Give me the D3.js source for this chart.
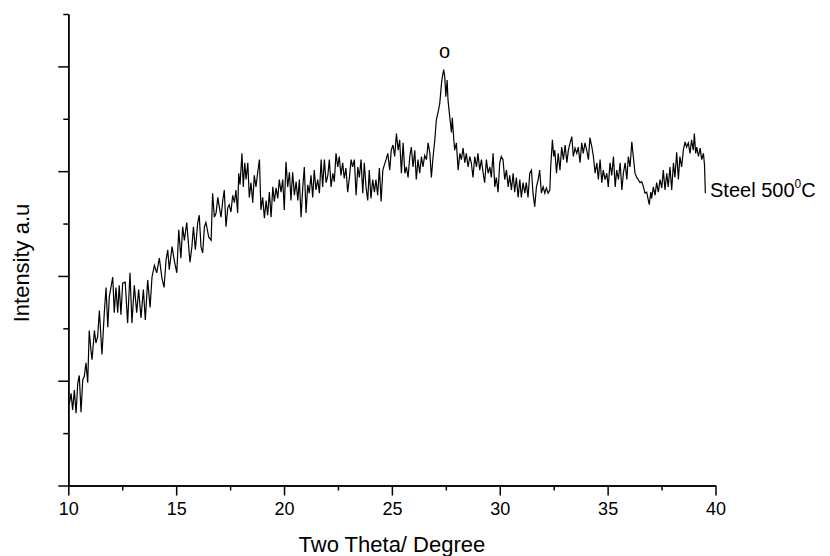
<!DOCTYPE html>
<html>
<head>
<meta charset="utf-8">
<script src="https://cdn.jsdelivr.net/npm/d3@7"></script>
<style>
    html, body { margin: 0; padding: 0; background: #fff; }
    svg { display: block; font-family: "Liberation Sans", Arial, sans-serif; }
</style>
</head>
<body>
<div id="chart"></div>
<script>
// XRD pattern, Steel 500 C (arbitrary units)
const twoTheta = [
    10.05, 10.13, 10.20, 10.28, 10.36, 10.44, 10.51, 10.59, 10.67, 10.74, 10.82, 10.90, 10.97, 11.05, 11.10,
    11.21, 11.28, 11.36, 11.44, 11.56, 11.67, 11.75, 11.83, 11.90, 12.06, 12.13, 12.21, 12.29, 12.36, 12.44,
    12.52, 12.64, 12.75, 12.86, 12.95, 13.06, 13.17, 13.26, 13.37, 13.48, 13.57, 13.68, 13.79, 13.88, 13.99,
    14.10, 14.22, 14.34, 14.44, 14.53, 14.61, 14.68, 14.81, 14.91, 15.03, 15.12, 15.22, 15.30, 15.38, 15.49,
    15.58, 15.64, 15.73, 15.80, 15.89, 16.00, 16.07, 16.15, 16.23, 16.31, 16.38, 16.51, 16.62, 16.69, 16.77,
    16.85, 16.93, 17.00, 17.08, 17.16, 17.23, 17.31, 17.39,
    17.46, 17.54, 17.62, 17.70, 17.77, 17.85, 17.90, 17.96, 18.05, 18.11, 18.18, 18.24, 18.32, 18.39, 18.47,
    18.55, 18.62, 18.70, 18.78, 18.86, 18.93, 19.01, 19.09, 19.17, 19.24, 19.32, 19.40, 19.48, 19.55, 19.63,
    19.71, 19.78, 19.86, 19.94, 20.01, 20.09, 20.17, 20.25, 20.32, 20.40, 20.48, 20.56, 20.64, 20.71, 20.79,
    20.87, 20.94, 21.02, 21.10, 21.17, 21.25, 21.33, 21.40, 21.48, 21.56, 21.64, 21.72, 21.79, 21.87, 21.95,
    22.03, 22.10, 22.18, 22.26, 22.33, 22.41, 22.49, 22.56, 22.64, 22.72, 22.79, 22.87, 22.95, 23.03, 23.11,
    23.18, 23.26, 23.34, 23.42, 23.49, 23.57, 23.65, 23.72, 23.80, 23.88, 23.95, 24.03, 24.11, 24.19, 24.26,
    24.34, 24.42, 24.50, 24.58, 24.65, 24.73, 24.81,
    24.90, 24.97, 25.05, 25.13, 25.21, 25.29, 25.36, 25.44, 25.52, 25.60, 25.67, 25.75, 25.83, 25.90, 25.98,
    26.06, 26.13, 26.21, 26.29, 26.37, 26.44, 26.52, 26.60, 26.68, 26.76, 26.83, 26.91, 26.99, 27.06, 27.14,
    27.22, 27.30, 27.34, 27.40, 27.45, 27.50, 27.56, 27.60, 27.68, 27.76, 27.80, 27.87, 27.91, 27.99, 28.07,
    28.15, 28.22, 28.30, 28.38, 28.45, 28.53, 28.61, 28.68, 28.76, 28.84, 28.92, 28.99, 29.07, 29.15, 29.23,
    29.30, 29.38, 29.46, 29.54, 29.61, 29.69, 29.77, 29.84, 29.92, 30.00, 30.07, 30.15, 30.23, 30.31, 30.39,
    30.46, 30.54, 30.62, 30.69, 30.77, 30.85, 30.93, 31.00, 31.08, 31.16, 31.23, 31.31, 31.39, 31.47, 31.54,
    31.62, 31.70, 31.78, 31.85, 31.93, 32.01, 32.09, 32.16, 32.24, 32.32,
    32.36, 32.44, 32.50, 32.55, 32.63, 32.71, 32.79, 32.87, 32.95, 33.03, 33.11, 33.18, 33.26, 33.34, 33.41,
    33.49, 33.57, 33.64, 33.72, 33.80, 33.87, 33.95, 34.03, 34.11, 34.18, 34.27, 34.34, 34.42, 34.50, 34.57,
    34.65, 34.73, 34.80, 34.88, 34.96, 35.03, 35.11, 35.19, 35.27, 35.35, 35.42, 35.50, 35.58, 35.66, 35.73,
    35.81, 35.89, 35.96, 36.04, 36.12, 36.19, 36.27, 36.35, 36.42, 36.50, 36.58, 36.66, 36.73, 36.81, 36.89,
    36.93, 37.00, 37.04, 37.12, 37.20, 37.27, 37.35, 37.43, 37.51, 37.58, 37.66, 37.74, 37.81, 37.89, 37.97,
    38.05, 38.12, 38.20, 38.28, 38.35, 38.43, 38.51, 38.59, 38.66, 38.74, 38.82, 38.89, 38.97, 39.02, 39.08,
    39.13, 39.21, 39.29, 39.36, 39.44, 39.49, 39.53
];

const intensity = [
    78, 88, 72, 91, 69, 98, 105, 70, 101, 104, 117, 98, 148, 129, 120,
    148, 136, 142, 167, 125, 165, 189, 151, 180, 199, 165, 189, 165, 191, 163,
    193, 194, 155, 203, 155, 191, 165, 187, 160, 187, 158, 196, 170, 199, 210,
    203, 217, 198, 189, 215, 225, 206, 228, 215, 203, 244, 217, 247, 234, 251,
    228, 213, 228, 247, 225, 251, 258, 228, 222, 247, 251, 237, 234, 279, 256,
    260, 275, 266, 256, 272, 282, 247, 265,
    268, 261, 277, 270, 282, 260, 298, 287, 317, 285, 308, 292, 308, 275, 289,
    270, 296, 285, 299, 311, 263, 275, 255, 272, 258, 280, 256, 285, 271, 284,
    274, 292, 280, 292, 263, 309, 285, 299, 272, 299, 277, 290, 272, 292, 256,
    285, 304, 260, 287, 279, 296, 275, 301, 282, 292, 279, 311, 285, 311, 289,
    296, 311, 285, 298, 290, 317, 304, 314, 296, 308, 293, 303, 280, 294, 311,
    304, 311, 277, 304, 294, 311, 279, 308, 285, 272, 301, 274, 292, 280, 292,
    277, 303, 271, 301, 306, 311, 317,
    301, 320, 325, 314, 336, 320, 330, 298, 327, 298, 304, 294, 314, 323, 304,
    320, 292, 311, 298, 314, 304, 315, 311, 327, 317, 294, 314, 330, 349, 356,
    365, 384, 390, 397, 390, 371, 387, 368, 352, 337, 351, 330, 320, 327, 301,
    317, 311, 322, 308, 317, 304, 314, 308, 294, 314, 304, 317, 301, 311, 298,
    289, 311, 298, 304, 294, 317, 285, 294, 280, 308, 314, 311, 292, 301, 285,
    296, 282, 298, 280, 294, 275, 292, 275, 289, 279, 289, 275, 298, 301, 279,
    266, 285, 292, 301, 279, 285, 279, 284, 279, 282,
    304, 330, 314, 320, 298, 317, 301, 323, 311, 325, 308, 320, 327, 333, 314,
    322, 317, 323, 308, 327, 317, 327, 320, 311, 332, 323, 314, 298, 308, 292,
    311, 289, 301, 292, 298, 285, 308, 296, 314, 285, 301, 292, 308, 282, 298,
    308, 292, 314, 304, 328, 314, 298, 294, 292, 289, 290, 285, 279, 280, 272,
    268, 280, 274, 285, 277, 289, 280, 292, 284, 301, 282, 298, 285, 304, 282,
    308, 294, 318, 292, 314, 304, 320, 328, 323, 327, 317, 330, 320, 336, 317,
    323, 314, 322, 311, 317, 306, 279
];

const xMajorTicks = [10, 15, 20, 25, 30, 35, 40];
const xMinorTicks = [12.5, 17.5, 22.5, 27.5, 32.5, 37.5];
const yMajorTicks = [0, 100, 200, 300, 400];
const yMinorTicks = [50, 150, 250, 350, 450];

const xTitle = 'Two Theta/ Degree';
const yTitle = 'Intensity a.u';
const peakMark = { theta: 27.40, label: 'o' };

function drawChart() {
    const width = 830;
    const height = 556;
    const axisColor = '#000';

    const svg = d3.select('#chart')
        .append('svg')
        .attr('width', width)
        .attr('height', height);

    const x = d3.scaleLinear().domain([10, 40]).range([68.3, 715.5]);
    const y = d3.scaleLinear().domain([0, 450]).range([485.5, 14]);

    // Data trace
    const points = twoTheta.map((t, i) => [t, intensity[i]]);
    const line = d3.line()
        .x(d => x(d[0]))
        .y(d => y(d[1]));

    svg.append('path')
        .datum(points)
        .attr('d', line)
        .attr('fill', 'none')
        .attr('stroke', '#000')
        .attr('stroke-width', 1.2)
        .attr('stroke-linejoin', 'miter');

    // Bottom axis (major + minor)
    const xAxisG = svg.append('g').attr('transform', `translate(0,${y(0)})`);
    xAxisG.append('g')
        .call(d3.axisBottom(x).tickValues(xMinorTicks).tickSize(5).tickSizeOuter(0).tickFormat(''));
    xAxisG.append('g')
        .call(d3.axisBottom(x).tickValues(xMajorTicks).tickSize(10).tickSizeOuter(0).tickPadding(7).tickFormat(d3.format('d')));

    // Left axis (major + minor, no labels)
    const yAxisG = svg.append('g').attr('transform', `translate(${x(10)},0)`);
    yAxisG.append('g')
        .call(d3.axisLeft(y).tickValues(yMinorTicks).tickSize(5).tickSizeOuter(0).tickFormat(''));
    yAxisG.append('g')
        .call(d3.axisLeft(y).tickValues(yMajorTicks).tickSize(10).tickSizeOuter(0).tickFormat(''));

    svg.selectAll('.domain, .tick line')
        .attr('stroke', axisColor)
        .attr('stroke-width', 1.5);

    svg.selectAll('.tick text')
        .attr('fill', '#000')
        .style('font-size', '18px')
        .style('font-family', '"Liberation Sans", Arial, sans-serif');

    // Axis titles
    svg.append('text')
        .attr('x', (x(10) + x(40)) / 2)
        .attr('y', 552)
        .attr('text-anchor', 'middle')
        .style('font-size', '22px')
        .text(xTitle);

    svg.append('text')
        .attr('transform', 'translate(29,263) rotate(-90)')
        .attr('text-anchor', 'middle')
        .style('font-size', '22px')
        .text(yTitle);

    // Peak marker
    svg.append('text')
        .attr('x', x(peakMark.theta) + 1)
        .attr('y', 58)
        .attr('text-anchor', 'middle')
        .style('font-size', '20px')
        .text(peakMark.label);

    // Series label at the end of the trace
    const lbl = svg.append('text')
        .attr('x', 710)
        .attr('y', 197)
        .style('font-size', '20px');
    lbl.append('tspan').text('Steel 500');
    lbl.append('tspan').attr('dy', -9).style('font-size', '12px').text('0');
    lbl.append('tspan').attr('dy', 9).text('C');
}

drawChart();
</script>
</body>
</html>
